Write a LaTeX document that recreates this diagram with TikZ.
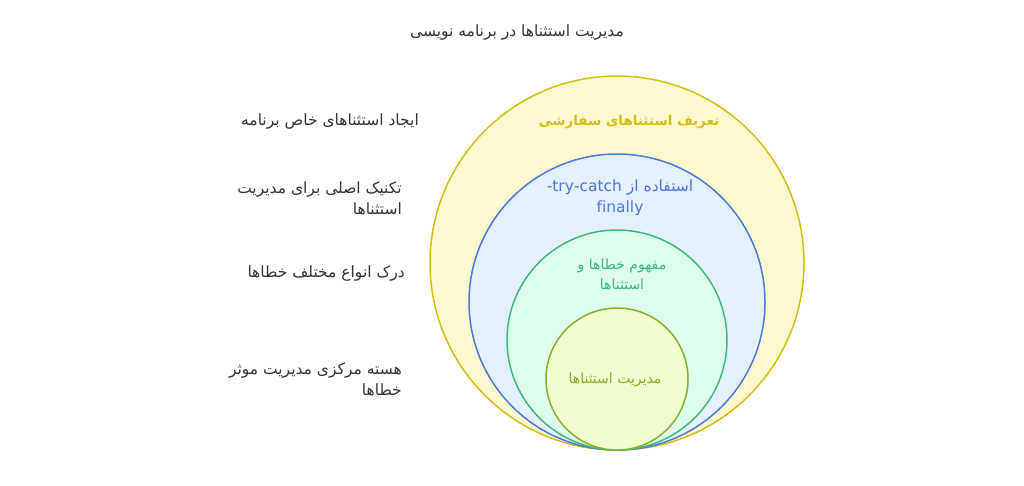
\documentclass[tikz,border=0pt]{standalone}
\usepackage{fontspec}
\newfontfamily\fa[Script=Arabic]{DejaVu Sans}
\TeXXeTstate=1
\definecolor{ylwline}{HTML}{D6BE12}
\definecolor{ylwfill}{HTML}{FEF9CF}
\definecolor{bluline}{HTML}{4A7BD6}
\definecolor{blufill}{HTML}{E6EFFC}
\definecolor{grnline}{HTML}{3DBB7B}
\definecolor{grnfill}{HTML}{DDFCEB}
\definecolor{limline}{HTML}{84B22A}
\definecolor{limfill}{HTML}{F1FDCF}
\definecolor{txtgray}{HTML}{333333}
\tikzset{
  ring/.style={line width=1.5pt},
  lbl/.style={font=\fa\fontsize{15.5}{21}\selectfont, text=txtgray, align=right, inner sep=0pt},
  inlbl/.style={font=\fa\fontsize{15.5}{21}\selectfont, align=center, inner sep=0pt}
}
\begin{document}
\begin{tikzpicture}[x=1pt,y=-1pt]
\fill[white] (0,0) rectangle (1024,485);
\useasboundingbox (0,0) rectangle (1024,485);
%title
\node[lbl] (title) at (517,33) {\beginR مدیریت استثناها در برنامه نویسی\endR};
%circles
\draw[ring,ylwline,fill=ylwfill] (617,263) circle (187pt);
\draw[ring,bluline,fill=blufill] (617,302) circle (148pt);
\draw[ring,grnline,fill=grnfill] (617,340) circle (110pt);
\draw[ring,limline,fill=limfill] (617,379) circle (71pt);
%circle texts
\node[inlbl,text=ylwline,font=\fa\bfseries\fontsize{13.5}{19}\selectfont] (custom) at (629,122) {\beginR تعریف استثناهای سفارشی\endR};
\node[inlbl,text=bluline] (trycatch) at (620,198) {\beginR استفاده از \beginL-try-catch\endL\endR\\finally};
\node[inlbl,text=grnline,font=\fa\fontsize{14}{20}\selectfont] (concept) at (622,274) {\beginR مفهوم خطاها و\endR\\\beginR استثناها\endR};
\node[inlbl,text=limline,font=\fa\fontsize{14}{19}\selectfont] (handling) at (615,380) {\beginR مدیریت استثناها\endR};
%left texts
\node[lbl,anchor=east] (desc1) at (419,121) {\beginR ایجاد استثناهای خاص برنامه\endR};
\node[lbl,anchor=east] (desc2) at (402,198) {\beginR تکنیک اصلی برای مدیریت\endR\\\beginR استثناها\endR};
\node[lbl,anchor=east] (desc3) at (405,273) {\beginR درک انواع مختلف خطاها\endR};
\node[lbl,anchor=east] (desc4) at (402,379) {\beginR هسته مرکزی مدیریت موثر\endR\\\beginR خطاها\endR};
\end{tikzpicture}
\end{document}
